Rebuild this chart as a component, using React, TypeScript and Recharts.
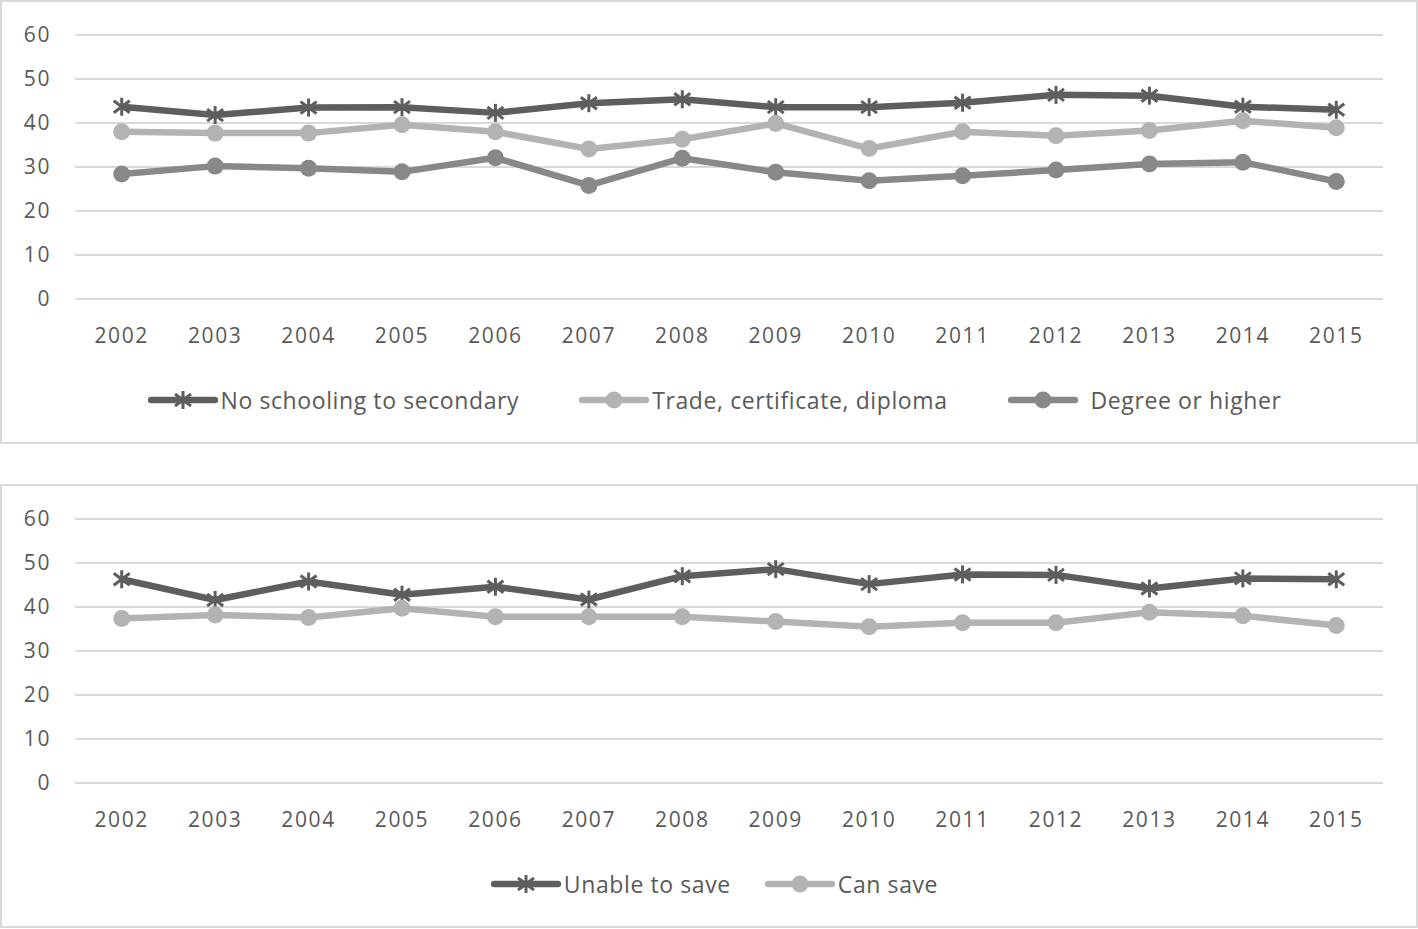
import React from "react";
import {
  CartesianGrid,
  Legend,
  Line,
  LineChart,
  XAxis,
  YAxis,
} from "recharts";

const years = [
  "2002", "2003", "2004", "2005", "2006", "2007", "2008",
  "2009", "2010", "2011", "2012", "2013", "2014", "2015",
];

// top panel: education
const noSchooling = [43.7, 41.8, 43.5, 43.6, 42.3, 44.5, 45.4, 43.6, 43.6, 44.6, 46.4, 46.2, 43.7, 43.0];
const tradeCert = [38.0, 37.7, 37.7, 39.6, 38.0, 34.1, 36.3, 39.9, 34.2, 38.0, 37.1, 38.3, 40.5, 38.9];
const degreeHigher = [28.4, 30.2, 29.7, 28.9, 32.1, 25.8, 32.0, 28.8, 26.9, 28.0, 29.3, 30.7, 31.1, 26.7];

// bottom panel: saving ability
const unableToSave = [46.3, 41.6, 45.8, 42.8, 44.6, 41.7, 47.0, 48.6, 45.2, 47.4, 47.3, 44.2, 46.5, 46.3];
const canSave = [37.4, 38.2, 37.6, 39.7, 37.8, 37.8, 37.8, 36.7, 35.5, 36.4, 36.4, 38.8, 38.0, 35.8];

const yTicks = [0, 10, 20, 30, 40, 50, 60];

const DARK = "#5e5e5e";
const MID = "#888888";
const LIGHT = "#b3b3b3";
const TEXT = "#595959";
const FONT = "'Open Sans', Lato, sans-serif";

type Series = {
  key: string;
  name: string;
  values: number[];
  color: string;
  marker: "star" | "circle";
  labelGap: number;
};

const topSeries: Series[] = [
  { key: "a", name: "No schooling to secondary", values: noSchooling, color: DARK, marker: "star", labelGap: 3 },
  { key: "b", name: "Trade, certificate, diploma", values: tradeCert, color: LIGHT, marker: "circle", labelGap: 3 },
  { key: "c", name: "Degree or higher", values: degreeHigher, color: MID, marker: "circle", labelGap: 13 },
];

const bottomSeries: Series[] = [
  { key: "a", name: "Unable to save", values: unableToSave, color: DARK, marker: "star", labelGap: 3 },
  { key: "b", name: "Can save", values: canSave, color: LIGHT, marker: "circle", labelGap: 3 },
];

function Star({ cx, cy, color }: { cx: number; cy: number; color: string }) {
  return (
    <g stroke={color} strokeWidth={3} strokeLinecap="butt">
      <line x1={cx} y1={cy - 9} x2={cx} y2={cy + 9} />
      <line x1={cx - 8} y1={cy - 6} x2={cx + 8} y2={cy + 6} />
      <line x1={cx - 8} y1={cy + 6} x2={cx + 8} y2={cy - 6} />
    </g>
  );
}

function renderDot(s: Series) {
  return (props: any) => {
    const { cx, cy, index } = props;
    if (cx == null || cy == null) return <g key={`${s.key}-${index}`} />;
    if (s.marker === "star") {
      return <Star key={`${s.key}-${index}`} cx={cx} cy={cy} color={s.color} />;
    }
    return <circle key={`${s.key}-${index}`} cx={cx} cy={cy} r={8.5} fill={s.color} />;
  };
}

function LegendRow({ series, gap }: { series: Series[]; gap: number }) {
  return (
    <div
      style={{
        height: 84,
        paddingLeft: 44,
        boxSizing: "border-box",
        display: "flex",
        justifyContent: "center",
        alignItems: "center",
        gap,
        fontFamily: FONT,
        fontSize: 23,
        letterSpacing: 0.6,
        color: TEXT,
      }}
    >
      {series.map((s) => (
        <div key={s.key} style={{ display: "flex", alignItems: "center", gap: s.labelGap }}>
          <svg width={70} height={20}>
            <line x1={3} y1={10} x2={67} y2={10} stroke={s.color} strokeWidth={6.5} strokeLinecap="round" />
            {s.marker === "star" ? (
              <Star cx={35} cy={10} color={s.color} />
            ) : (
              <circle cx={35} cy={10} r={8.5} fill={s.color} />
            )}
          </svg>
          <span>{s.name}</span>
        </div>
      ))}
    </div>
  );
}

function Panel({ series, top, legendGap }: { series: Series[]; top: number; legendGap: number }) {
  const data = years.map((y, i) => {
    const row: Record<string, string | number> = { year: y };
    series.forEach((s) => {
      row[s.key] = s.values[i];
    });
    return row;
  });

  return (
    <div
      style={{
        position: "absolute",
        left: 0,
        top,
        width: 1418,
        height: 444,
        boxSizing: "border-box",
        border: "2px solid #d9d9d9",
        background: "#fff",
      }}
    >
      <LineChart
        width={1414}
        height={440}
        data={data}
        margin={{ top: 33, right: 33, left: 0, bottom: 0 }}
      >
        <CartesianGrid vertical={false} stroke="#d9d9d9" strokeWidth={2} />
        <XAxis
          dataKey="year"
          scale="band"
          axisLine={false}
          tickLine={false}
          tickSize={0}
          tickMargin={29}
          height={59}
          interval={0}
          tick={{ fill: TEXT, fontSize: 21, fontFamily: FONT, letterSpacing: 1.6 }}
        />
        <YAxis
          domain={[0, 60]}
          ticks={yTicks}
          width={73}
          axisLine={false}
          tickLine={false}
          tickSize={0}
          tickMargin={24}
          tick={{ fill: TEXT, fontSize: 21, fontFamily: FONT, letterSpacing: 1.6 }}
        />
        <Legend
          verticalAlign="bottom"
          content={() => <LegendRow series={series} gap={legendGap} />}
        />
        {series.map((s) => (
          <Line
            key={s.key}
            dataKey={s.key}
            name={s.name}
            type="linear"
            stroke={s.color}
            strokeWidth={6.5}
            strokeLinejoin="round"
            dot={renderDot(s)}
            activeDot={false}
            isAnimationActive={false}
          />
        ))}
      </LineChart>
    </div>
  );
}

export default function App() {
  return (
    <div style={{ position: "absolute", left: 0, top: 0, width: 1418, height: 929, background: "#fff" }}>
      <Panel series={topSeries} top={0} legendGap={60} />
      <Panel series={bottomSeries} top={484} legendGap={34} />
    </div>
  );
}
